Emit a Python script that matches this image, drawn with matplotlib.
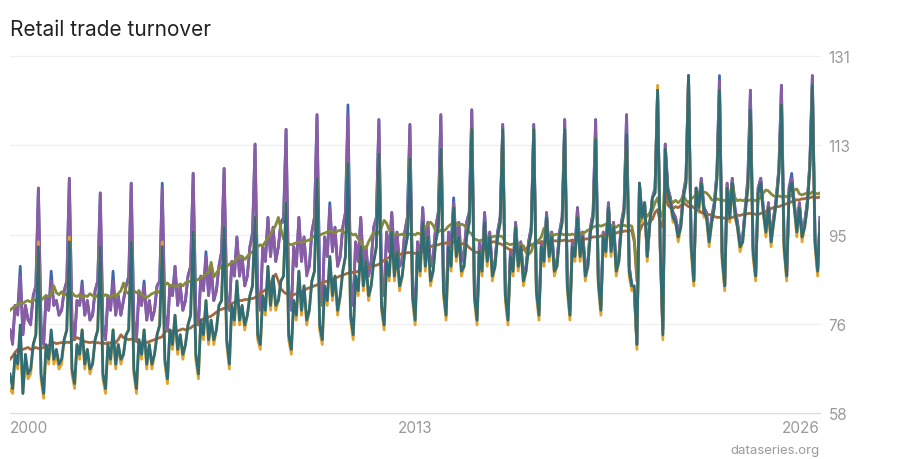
import matplotlib
matplotlib.use("Agg")
import matplotlib.pyplot as plt
import pandas as pd

plt.rcParams["font.family"] = ["Inter", "DejaVu Sans"]

# monthly index values, Jan 2000 .. Mar 2026 (one row per year)
volume_raw = [
    75, 73, 80, 79, 88, 74, 80, 77, 77, 82, 84, 104,
    76, 72, 82, 79, 87, 80, 81, 78, 79, 83, 85, 106,
    77, 73, 81, 80, 85, 78, 81, 77, 78, 83, 85, 103,
    76, 73, 82, 79, 87, 78, 82, 78, 81, 84, 86, 105,
    77, 73, 83, 80, 85, 77, 81, 77, 79, 84, 85, 105,
    78, 75, 84, 82, 88, 80, 84, 79, 81, 86, 88, 107,
    79, 76, 86, 83, 91, 82, 88, 81, 83, 88, 91, 108,
    82, 79, 89, 86, 94, 86, 90, 84, 86, 92, 95, 113,
    83, 79, 92, 89, 98, 90, 96, 89, 92, 97, 98, 116,
    83, 79, 92, 88, 98, 89, 94, 87, 88, 95, 98, 119,
    85, 80, 94, 90, 101, 91, 96, 88, 90, 96, 99, 121,
    85, 80, 93, 89, 98, 88, 92, 86, 89, 96, 98, 118,
    86, 82, 95, 91, 99, 90, 95, 88, 89, 95, 98, 117,
    84, 79, 93, 89, 100, 91, 97, 88, 90, 96, 99, 119,
    85, 80, 95, 92, 102, 92, 97, 89, 91, 97, 99, 120,
    83, 78, 93, 88, 99, 90, 95, 87, 89, 95, 98, 117,
    82, 78, 91, 88, 97, 89, 93, 86, 88, 93, 96, 117,
    84, 79, 93, 90, 99, 91, 95, 88, 89, 95, 98, 118,
    85, 79, 93, 92, 100, 91, 95, 88, 89, 96, 99, 118,
    86, 80, 95, 92, 101, 92, 97, 88, 90, 97, 100, 119,
    88, 84, 83, 72, 105, 98, 101, 90, 97, 102, 104, 124,
    92, 75, 113, 104, 102, 99, 98, 95, 97, 103, 106, 127,
    93, 85, 104, 101, 106, 100, 99, 94, 98, 101, 107, 127,
    91, 84, 105, 99, 106, 100, 97, 93, 94, 100, 106, 124,
    92, 86, 104, 106, 100, 96, 101, 94, 98, 102, 108, 125,
    93, 86, 104, 107, 101, 96, 101, 95, 97, 101, 109, 127,
    94, 87, 98,
]

volume_cal = [
    75, 72, 80, 78, 86, 74, 80, 77, 76, 82, 84, 104,
    76, 72, 82, 79, 85, 80, 81, 78, 79, 83, 85, 106,
    77, 73, 81, 80, 84, 78, 81, 77, 78, 83, 85, 103,
    76, 73, 82, 79, 85, 78, 82, 78, 81, 84, 85, 105,
    77, 73, 83, 80, 84, 77, 81, 77, 79, 84, 85, 104,
    78, 75, 84, 82, 88, 80, 84, 79, 81, 86, 88, 107,
    79, 76, 86, 83, 90, 82, 88, 81, 83, 88, 91, 108,
    82, 79, 89, 86, 94, 86, 90, 84, 86, 92, 94, 113,
    83, 79, 92, 89, 98, 90, 96, 89, 92, 97, 97, 116,
    83, 79, 92, 88, 98, 89, 94, 86, 88, 95, 98, 119,
    85, 80, 94, 90, 100, 91, 96, 88, 90, 96, 99, 119,
    85, 80, 93, 89, 98, 88, 92, 86, 89, 96, 98, 118,
    86, 82, 95, 91, 99, 90, 95, 88, 89, 95, 98, 117,
    84, 79, 93, 89, 100, 91, 97, 88, 90, 96, 99, 119,
    85, 80, 95, 92, 101, 92, 97, 89, 91, 97, 99, 120,
    83, 78, 93, 88, 99, 90, 95, 87, 89, 95, 98, 117,
    82, 78, 91, 88, 97, 89, 93, 86, 88, 93, 96, 117,
    84, 79, 93, 90, 99, 91, 95, 88, 89, 95, 98, 118,
    85, 79, 93, 91, 100, 91, 95, 88, 89, 96, 99, 118,
    86, 80, 95, 92, 101, 92, 97, 88, 90, 97, 100, 119,
    88, 84, 83, 72, 105, 98, 101, 90, 97, 102, 104, 124,
    92, 75, 113, 104, 102, 99, 98, 95, 97, 103, 106, 127,
    93, 85, 104, 101, 106, 100, 99, 94, 98, 101, 107, 126,
    91, 84, 105, 99, 106, 100, 97, 93, 94, 100, 106, 124,
    92, 86, 104, 106, 100, 96, 101, 94, 98, 102, 108, 125,
    93, 86, 104, 106, 101, 96, 101, 95, 97, 101, 109, 127,
    94, 87, 98,
]

value_raw = [
    63, 62, 70, 67, 75, 62, 69, 65, 66, 72, 74, 93,
    65, 61, 71, 68, 74, 68, 70, 67, 68, 73, 75, 94,
    66, 63, 72, 69, 75, 67, 71, 66, 68, 73, 75, 92,
    65, 62, 72, 68, 75, 67, 72, 68, 70, 74, 75, 93,
    66, 62, 73, 69, 75, 67, 72, 67, 70, 74, 76, 93,
    68, 64, 75, 71, 78, 70, 74, 69, 72, 76, 78, 95,
    69, 65, 77, 73, 81, 72, 77, 72, 75, 80, 81, 96,
    72, 67, 80, 76, 85, 76, 80, 75, 78, 82, 84, 98,
    73, 71, 82, 78, 88, 79, 86, 79, 81, 85, 86, 101,
    73, 70, 81, 77, 87, 78, 84, 76, 79, 85, 87, 106,
    75, 72, 84, 80, 90, 81, 86, 78, 82, 87, 90, 109,
    77, 73, 86, 82, 92, 83, 89, 81, 84, 89, 92, 111,
    79, 75, 89, 85, 95, 85, 91, 83, 86, 91, 94, 110,
    81, 76, 91, 86, 97, 87, 94, 84, 87, 93, 96, 112,
    82, 77, 92, 87, 100, 89, 94, 86, 88, 94, 97, 116,
    81, 76, 91, 86, 97, 88, 94, 85, 88, 94, 97, 116,
    81, 76, 90, 86, 96, 87, 92, 84, 87, 92, 95, 116,
    82, 77, 92, 88, 98, 89, 94, 86, 88, 94, 97, 116,
    83, 77, 92, 89, 98, 89, 94, 85, 88, 95, 98, 114,
    84, 78, 94, 90, 100, 90, 96, 86, 89, 96, 99, 115,
    86, 83, 83, 71, 105, 97, 101, 89, 97, 102, 103, 125,
    91, 73, 112, 102, 101, 97, 97, 93, 96, 102, 105, 127,
    91, 84, 104, 99, 105, 98, 98, 92, 97, 100, 106, 124,
    89, 83, 104, 97, 105, 98, 96, 91, 93, 99, 104, 120,
    90, 85, 103, 104, 99, 94, 100, 92, 97, 101, 107, 121,
    91, 85, 103, 104, 100, 94, 100, 93, 96, 100, 108, 125,
    92, 86, 97,
]

value_sa = [
    69.0, 69.6, 70.4, 71.0, 71.2, 71.0, 71.2, 71.4, 71.0, 71.2, 71.4, 71.2,
    71.2, 71.4, 71.6, 71.8, 72.0, 72.4, 72.2, 72.3, 72.4, 72.2, 72.5, 72.4,
    72.8, 73.1, 73.4, 73.2, 72.8, 72.6, 72.5, 72.4, 72.5, 72.3, 72.4, 72.3,
    72.3, 72.2, 72.4, 72.3, 72.2, 72.4, 73.0, 74.0, 73.4, 73.2, 73.0, 73.1,
    73.0, 72.6, 72.4, 72.3, 72.2, 72.4, 72.6, 72.8, 73.0, 73.2, 73.4, 73.6,
    74.6, 74.8, 74.6, 74.8, 74.6, 74.8, 75.0, 75.2, 75.0, 75.2, 75.4, 75.8,
    76.0, 76.4, 77.0, 77.2, 77.4, 77.6, 77.8, 78.2, 78.6, 79.0, 79.2, 79.4,
    79.6, 80.0, 80.4, 80.6, 80.8, 81.0, 81.0, 81.2, 81.2, 81.4, 81.4, 81.6,
    82.0, 82.4, 82.8, 83.2, 83.6, 84.4, 85.6, 86.4, 85.0, 83.4, 82.8, 82.4,
    82.4, 82.0, 82.2, 82.4, 82.6, 82.8, 83.0, 83.4, 83.6, 83.8, 84.0, 84.2,
    84.4, 84.6, 84.8, 85.0, 85.2, 85.4, 85.5, 85.8, 86.0, 86.2, 86.4, 86.6,
    86.6, 86.8, 86.8, 87.0, 87.2, 87.4, 87.6, 87.8, 88.0, 88.1, 88.2, 88.4,
    88.8, 89.2, 89.6, 89.8, 90.0, 90.2, 90.4, 90.4, 90.6, 90.6, 90.8, 90.8,
    90.8, 90.6, 90.8, 91.0, 91.0, 91.2, 91.6, 92.0, 92.2, 92.3, 92.4, 92.6,
    92.6, 92.8, 92.8, 93.0, 93.0, 92.8, 92.8, 92.6, 92.6, 92.4, 91.8, 91.4,
    91.0, 90.8, 91.0, 91.2, 91.4, 92.0, 92.6, 93.0, 93.0, 92.8, 92.6, 92.4,
    92.0, 91.6, 91.4, 91.2, 91.2, 91.4, 91.2, 91.4, 91.6, 92.0, 92.4, 92.6,
    92.8, 92.8, 93.0, 93.0, 93.0, 93.2, 93.2, 93.2, 93.2, 93.4, 93.2, 93.4,
    93.2, 93.2, 93.4, 93.2, 93.2, 93.4, 93.4, 93.6, 93.6, 93.8, 94.0, 94.0,
    94.0, 94.2, 94.4, 94.4, 94.6, 94.6, 94.8, 94.8, 95.0, 95.0, 95.2, 95.2,
    95.4, 95.2, 93.0, 85.0, 95.0, 96.4, 96.8, 96.6, 97.2, 97.6, 99.0, 99.6,
    97.0, 96.0, 104.0, 100.5, 100.0, 99.8, 100.2, 100.0, 100.4, 101.0, 100.6, 100.2,
    100.4, 100.0, 99.6, 99.4, 99.0, 98.8, 98.6, 98.6, 98.4, 98.2, 98.0, 98.0,
    98.0, 97.8, 97.6, 97.8, 98.0, 98.2, 98.4, 98.4, 98.6, 98.6, 98.8, 98.8,
    98.8, 98.6, 98.6, 98.8, 99.0, 99.2, 99.6, 99.8, 100.0, 100.2, 100.2, 100.4,
    100.6, 100.8, 101.0, 101.2, 101.4, 101.6, 101.6, 101.8, 101.8, 102.0, 102.0, 102.2,
    102.2, 102.0, 102.2,
]

volume_sa = [
    79.0, 79.5, 79.8, 80.2, 80.6, 80.4, 80.8, 81.0, 80.7, 81.2, 81.0, 81.4,
    81.0, 81.6, 82.0, 81.8, 82.4, 84.0, 82.6, 82.2, 82.8, 82.0, 82.4, 82.2,
    82.6, 82.0, 81.8, 82.2, 81.6, 82.0, 81.8, 82.4, 82.0, 81.6, 82.2, 81.9,
    81.8, 82.2, 82.0, 81.6, 82.2, 81.9, 82.4, 83.0, 84.6, 82.8, 82.4, 83.0,
    83.0, 82.6, 82.8, 82.2, 81.8, 81.6, 82.0, 82.4, 82.6, 83.0, 82.6, 83.2,
    84.2, 84.6, 84.0, 84.2, 83.8, 84.0, 84.4, 84.0, 84.6, 85.0, 84.8, 85.2,
    85.0, 85.4, 85.6, 86.0, 86.4, 86.8, 88.8, 85.8, 86.6, 87.4, 88.0, 88.4,
    88.0, 88.4, 88.8, 89.0, 89.6, 90.2, 90.0, 89.4, 90.0, 90.6, 91.0, 90.8,
    92.0, 92.4, 92.2, 93.0, 93.8, 94.6, 95.4, 96.4, 98.0, 95.6, 93.6, 93.0,
    92.6, 92.4, 92.6, 92.8, 93.0, 92.8, 93.0, 93.2, 93.4, 93.8, 94.2, 94.6,
    94.4, 94.6, 94.8, 95.0, 95.2, 95.0, 94.8, 95.2, 95.4, 95.0, 94.8, 95.2,
    94.8, 94.4, 94.6, 93.6, 93.0, 92.0, 91.6, 93.0, 94.0, 95.0, 94.6, 94.8,
    96.0, 97.4, 96.8, 95.4, 94.6, 94.4, 94.6, 94.4, 94.6, 94.2, 94.4, 94.6,
    94.6, 94.4, 94.8, 94.6, 95.0, 95.8, 96.6, 97.0, 96.4, 95.2, 95.0, 95.4,
    95.2, 95.6, 96.2, 96.6, 96.6, 96.8, 96.4, 96.6, 96.4, 95.8, 95.0, 94.6,
    93.6, 93.4, 93.2, 93.4, 93.2, 93.6, 93.8, 94.0, 94.2, 94.0, 94.2, 94.0,
    92.8, 92.6, 92.4, 92.6, 92.4, 92.6, 92.4, 92.2, 90.8, 90.4, 91.0, 92.6,
    93.0, 93.4, 94.0, 95.8, 94.2, 94.4, 94.6, 94.4, 94.6, 94.4, 94.6, 94.4,
    94.6, 94.4, 94.6, 94.4, 94.6, 94.8, 94.6, 95.0, 95.4, 95.6, 96.0, 96.2,
    96.4, 96.2, 96.4, 96.6, 96.2, 96.4, 96.2, 96.0, 96.4, 96.2, 96.4, 96.2,
    96.4, 96.2, 93.6, 86.0, 97.0, 98.4, 98.6, 98.2, 99.0, 99.4, 101.0, 102.0,
    99.0, 98.0, 107.0, 103.0, 101.5, 101.0, 101.5, 101.0, 101.5, 102.5, 101.5, 101.0,
    101.8, 102.2, 102.6, 103.0, 102.8, 103.2, 103.0, 102.4, 101.6, 101.4, 101.8, 101.6,
    101.6, 101.4, 101.8, 102.2, 105.2, 102.0, 101.4, 101.6, 101.4, 101.6, 101.4, 101.6,
    101.6, 101.4, 101.8, 102.0, 103.0, 103.6, 103.4, 102.8, 102.4, 102.2, 102.4, 102.2,
    102.4, 102.2, 102.6, 102.4, 103.6, 103.8, 102.8, 102.6, 102.8, 103.0, 102.8, 103.2,
    103.0, 102.8, 103.0,
]

value_cal = [
    66, 63, 70, 68, 76, 62, 70, 66, 67, 72, 74, 92,
    66, 62, 72, 69, 75, 69, 71, 68, 69, 73, 75, 93,
    67, 64, 72, 70, 75, 68, 71, 67, 68, 73, 75, 92,
    66, 63, 72, 69, 75, 68, 72, 69, 70, 74, 75, 93,
    67, 63, 73, 70, 75, 68, 72, 68, 70, 74, 76, 92,
    69, 65, 75, 72, 78, 71, 74, 70, 72, 76, 78, 95,
    70, 66, 77, 74, 81, 73, 77, 73, 75, 80, 81, 96,
    73, 68, 80, 77, 85, 77, 80, 76, 78, 82, 84, 98,
    74, 72, 82, 79, 88, 80, 86, 80, 81, 85, 86, 101,
    74, 71, 81, 78, 87, 79, 84, 77, 79, 85, 87, 106,
    76, 73, 84, 81, 90, 82, 86, 79, 82, 87, 90, 109,
    78, 74, 86, 83, 92, 84, 89, 82, 84, 89, 92, 111,
    80, 76, 89, 86, 95, 86, 91, 84, 86, 91, 94, 110,
    82, 77, 91, 87, 97, 88, 94, 85, 87, 93, 96, 112,
    83, 78, 92, 88, 100, 90, 94, 87, 88, 94, 97, 116,
    82, 77, 91, 87, 97, 89, 94, 86, 88, 94, 97, 116,
    82, 77, 90, 87, 96, 88, 92, 85, 87, 92, 95, 116,
    83, 78, 92, 89, 98, 90, 94, 87, 88, 94, 97, 116,
    84, 78, 92, 90, 98, 90, 94, 86, 88, 95, 98, 114,
    85, 79, 94, 91, 100, 91, 96, 87, 89, 96, 99, 115,
    87, 84, 84, 72, 105, 98, 101, 90, 97, 102, 103, 124,
    92, 74, 112, 103, 101, 98, 97, 94, 96, 102, 105, 127,
    92, 85, 104, 100, 105, 99, 98, 93, 97, 100, 106, 124,
    90, 84, 104, 98, 105, 99, 96, 92, 93, 99, 104, 120,
    91, 86, 103, 105, 99, 95, 100, 93, 97, 101, 107, 121,
    92, 86, 103, 105, 100, 95, 100, 94, 96, 100, 108, 125,
    93, 87, 97,
]

y_ticks = [58, 76.25, 94.5, 112.75, 131]
y_labels = ["58", "76", "95", "113", "131"]
x_labels = ["2000", "2013", "2026"]

series = [
    (volume_raw, "#3f67ad"),
    (volume_cal, "#8b5ca6"),
    (value_raw, "#e3a22c"),
    (value_sa, "#a5683e"),
    (volume_sa, "#858a3c"),
    (value_cal, "#2f6d77"),
]
n = len(volume_cal)
for vals, _ in series:
    assert len(vals) == n, len(vals)
dates = pd.date_range("2000-01-01", periods=n, freq="MS")

fig = plt.figure(figsize=(9, 4.6), dpi=100)
ax = fig.add_axes([10 / 900, 46 / 460, 810 / 900, 357 / 460])

for y in y_ticks:
    ax.axhline(y, color="#dedede" if y == y_ticks[0] else "#f0f0f0", lw=1, zorder=0, clip_on=False)

for vals, color in series:
    ax.plot(dates, vals, color=color, lw=2.0, solid_joinstyle="round")

ax.set_xlim(dates[0], dates[-1])
ax.set_ylim(y_ticks[0], y_ticks[-1])
for s in ax.spines.values():
    s.set_visible(False)

ax.yaxis.tick_right()
ax.set_yticks(y_ticks, y_labels)
ax.set_xticks([dates[0], dates[n // 2], dates[-1]], x_labels)
ax.tick_params(axis="both", length=0, labelsize=11, labelcolor="#9a9a9a")
ax.tick_params(axis="y", pad=6)
ax.tick_params(axis="x", pad=5)
for lbl, ha in zip(ax.get_xticklabels(), ["left", "center", "right"]):
    lbl.set_ha(ha)

fig.text(10 / 900, 1 - 36 / 460, "Retail trade turnover", fontsize=15, color="#222222", va="baseline")
fig.text(820 / 900, 1 - 454 / 460, "dataseries.org", fontsize=9.5, color="#9a9a9a", ha="right", va="baseline")

fig.savefig("out.png", dpi=100)
